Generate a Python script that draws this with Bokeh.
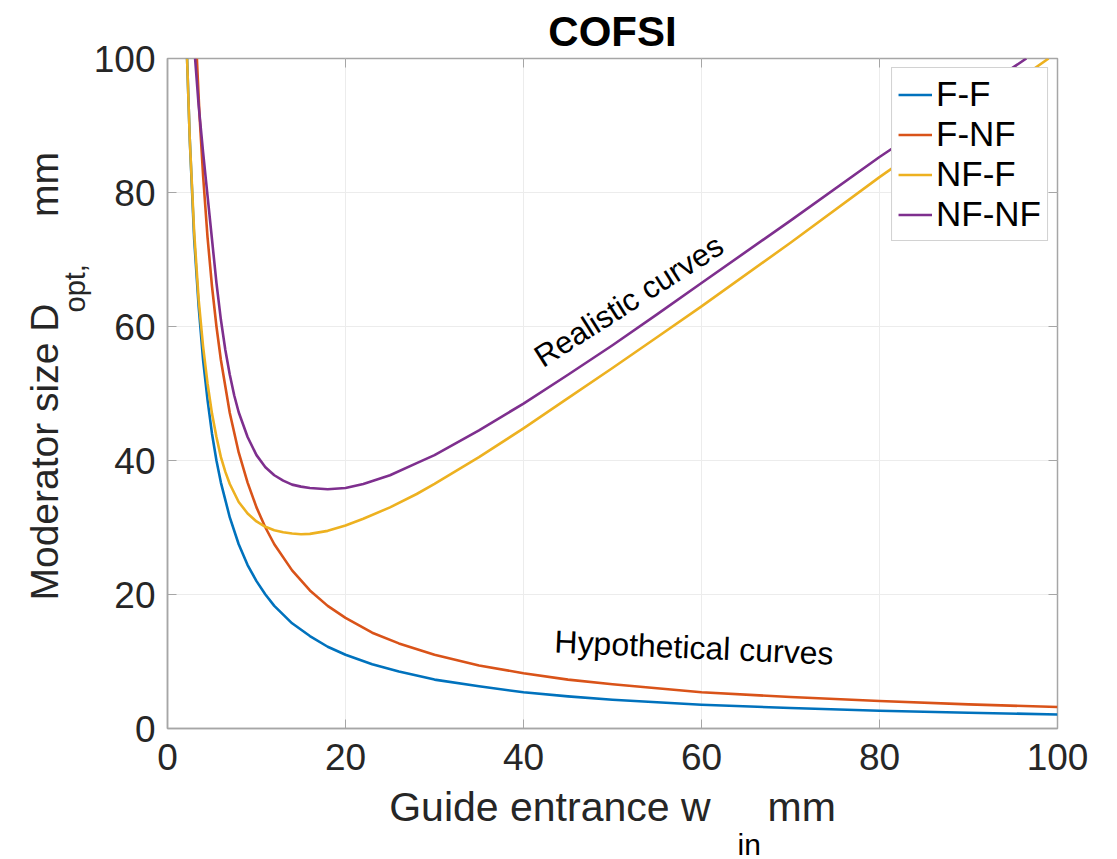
import math
from bokeh.plotting import figure
from bokeh.models import Range1d, Label, LinearAxis, Legend, LegendItem, Title
from bokeh.embed import file_html
from bokeh.resources import INLINE

# ---- data ----
x_ff = [2.2, 2.5, 3, 3.5, 4, 4.5, 5, 5.5, 6, 7, 8, 9, 10, 11, 12, 14, 16, 18, 20, 23, 26, 30, 35, 40, 45, 50, 60, 70, 80, 90, 100]
y_ff = [100, 88, 73, 63, 55, 49, 44, 40, 36.7, 31.5, 27.5, 24.4, 22, 20, 18.3, 15.7, 13.8, 12.2, 11, 9.6, 8.5, 7.3, 6.3, 5.4, 4.8, 4.3, 3.55, 3.05, 2.65, 2.35, 2.1]

x_fnf = [3.3, 3.6, 4, 4.5, 5, 5.5, 6, 7, 8, 9, 10, 11, 12, 14, 16, 18, 20, 23, 26, 30, 35, 40, 45, 50, 60, 70, 80, 90, 100]
y_fnf = [100, 91.5, 82.5, 73.3, 66, 60, 55, 47.1, 41.2, 36.7, 33, 30, 27.5, 23.6, 20.6, 18.3, 16.5, 14.3, 12.7, 11, 9.4, 8.25, 7.3, 6.6, 5.4, 4.7, 4.1, 3.6, 3.2]

x_nff = [2.2, 2.5, 3, 3.5, 4, 4.5, 5, 5.5, 6, 6.5, 7, 8, 9, 10, 11, 12, 13, 14, 15, 16, 18, 20, 22, 25, 28, 30, 35, 40, 45, 50, 55, 60, 70, 80, 90, 99]
y_nff = [100, 88, 74, 64, 57, 51.5, 47, 43.5, 40.5, 38.3, 36.5, 33.8, 32.1, 30.9, 30.1, 29.6, 29.3, 29.1, 29, 29.05, 29.5, 30.3, 31.3, 33, 35, 36.5, 40.5, 44.8, 49.3, 53.8, 58.4, 63, 72.5, 82.3, 91.6, 100]

x_nfnf = [3.1, 3.5, 4, 4.5, 5, 5.5, 6, 6.5, 7, 7.5, 8, 9, 10, 11, 12, 13, 14, 15, 16, 18, 20, 22, 25, 28, 30, 35, 40, 45, 50, 55, 60, 70, 80, 90, 96.5]
y_nfnf = [100, 93, 86, 79.5, 73, 66.5, 61, 56.5, 52.8, 49.7, 47.2, 43.5, 40.8, 39, 37.8, 37, 36.4, 36.1, 35.9, 35.7, 35.9, 36.5, 37.8, 39.6, 40.8, 44.5, 48.5, 52.8, 57.2, 61.8, 66.5, 75.8, 85.3, 94.2, 100]

series_names = ["F-F", "F-NF", "NF-F", "NF-NF"]
series_colors = ["#0072BD", "#D95319", "#EDB120", "#7E2F8E"]
x_ticks = [0, 20, 40, 60, 80, 100]
y_ticks = [0, 20, 40, 60, 80, 100]

FONT = "Liberation Sans"
TXT = "#262626"
BOX = "#a6a6a6"
NB = "\u00a0"

p = figure(width=1108, height=859, output_backend="svg", toolbar_location=None,
           x_range=Range1d(0, 100), y_range=Range1d(0, 100),
           min_border_left=167, min_border_right=51, min_border_top=58, min_border_bottom=131,
           title="COFSI")
p.background_fill_color = "white"
p.border_fill_color = "white"
p.outline_line_color = BOX
p.outline_line_width = 1.5

p.title.align = "center"
p.title.text_font = FONT
p.title.text_font_size = "42px"
p.title.text_font_style = "bold"
p.title.text_color = "black"
p.title.standoff = 7

for ax, tk in ((p.xaxis[0], x_ticks), (p.yaxis[0], y_ticks)):
    ax.ticker = tk
    ax.axis_line_color = BOX
    ax.axis_line_width = 1.5
    ax.major_tick_in = 9
    ax.major_tick_out = 0
    ax.major_tick_line_color = BOX
    ax.minor_tick_line_color = None
    ax.major_label_text_font = FONT
    ax.major_label_text_font_size = "37px"
    ax.major_label_text_color = TXT
    ax.major_label_standoff = 12
p.xaxis[0].major_label_standoff = 15

# x-axis label (w with its displaced subscript "in" below)
p.xaxis[0].axis_label = "Guide entrance w" + NB * 5 + "mm"
p.xaxis[0].axis_label_text_font = FONT
p.xaxis[0].axis_label_text_font_size = "41px"
p.xaxis[0].axis_label_text_font_style = "normal"
p.xaxis[0].axis_label_text_color = TXT
p.xaxis[0].axis_label_standoff = 11
p.add_layout(Title(text="in", align="left", offset=570, standoff=-14,
                   text_font=FONT, text_font_size="30px", text_font_style="normal",
                   text_color="black"), "below")

# y-axis label: "Moderator size D_opt, mm" as two stacked titles
p.add_layout(Title(text="opt,", align="left", offset=416, standoff=0,
                   text_font=FONT, text_font_size="29px", text_font_style="normal",
                   text_color=TXT), "left")
p.add_layout(Title(text="Moderator size D" + NB * 8 + "mm", align="left", offset=128, standoff=-19,
                   text_font=FONT, text_font_size="39px", text_font_style="normal",
                   text_color=TXT), "left")

# box ticks on top and right
for side, tk in (("right", y_ticks), ("above", x_ticks)):
    a = LinearAxis(ticker=tk)
    a.axis_line_color = None
    a.major_tick_in = 9
    a.major_tick_out = 0
    a.major_tick_line_color = BOX
    a.minor_tick_line_color = None
    a.major_label_text_font_size = "0px"
    a.major_label_text_alpha = 0
    a.major_label_standoff = 0
    p.add_layout(a, side)

p.xgrid.ticker = x_ticks
p.ygrid.ticker = y_ticks
p.xgrid.grid_line_color = "#ececec"
p.ygrid.grid_line_color = "#ececec"

xs = [x_ff, x_fnf, x_nff, x_nfnf]
ys = [y_ff, y_fnf, y_nff, y_nfnf]
renderers = []
for xv, yv, c in zip(xs, ys, series_colors):
    r = p.line(xv, yv, line_color=c, line_width=2.6, line_join="round")
    renderers.append(r)

legend = Legend(items=[LegendItem(label=n, renderers=[r]) for n, r in zip(series_names, renderers)],
                location="top_right")
legend.margin = 9
legend.padding = 6
legend.spacing = 0
legend.glyph_width = 34
legend.glyph_height = 35
legend.label_height = 35
legend.label_standoff = 4
legend.label_text_font = FONT
legend.label_text_font_size = "35px"
legend.label_text_line_height = 1.0
legend.label_text_color = "black"
legend.border_line_color = BOX
legend.border_line_width = 1.2
legend.background_fill_color = "white"
legend.background_fill_alpha = 1
p.add_layout(legend, "center")

# annotations inside the axes
p.add_layout(Label(x=42.6, y=52.9, text="Realistic curves", text_font=FONT, text_font_size="31px",
                   angle=math.radians(32.5), text_color="black"))
p.add_layout(Label(x=43.4, y=10.3, text="Hypothetical curves", text_font=FONT, text_font_size="32px",
                   angle=math.radians(-2.5), text_color="black"))

open("out.html", "w").write(file_html(p, INLINE))
